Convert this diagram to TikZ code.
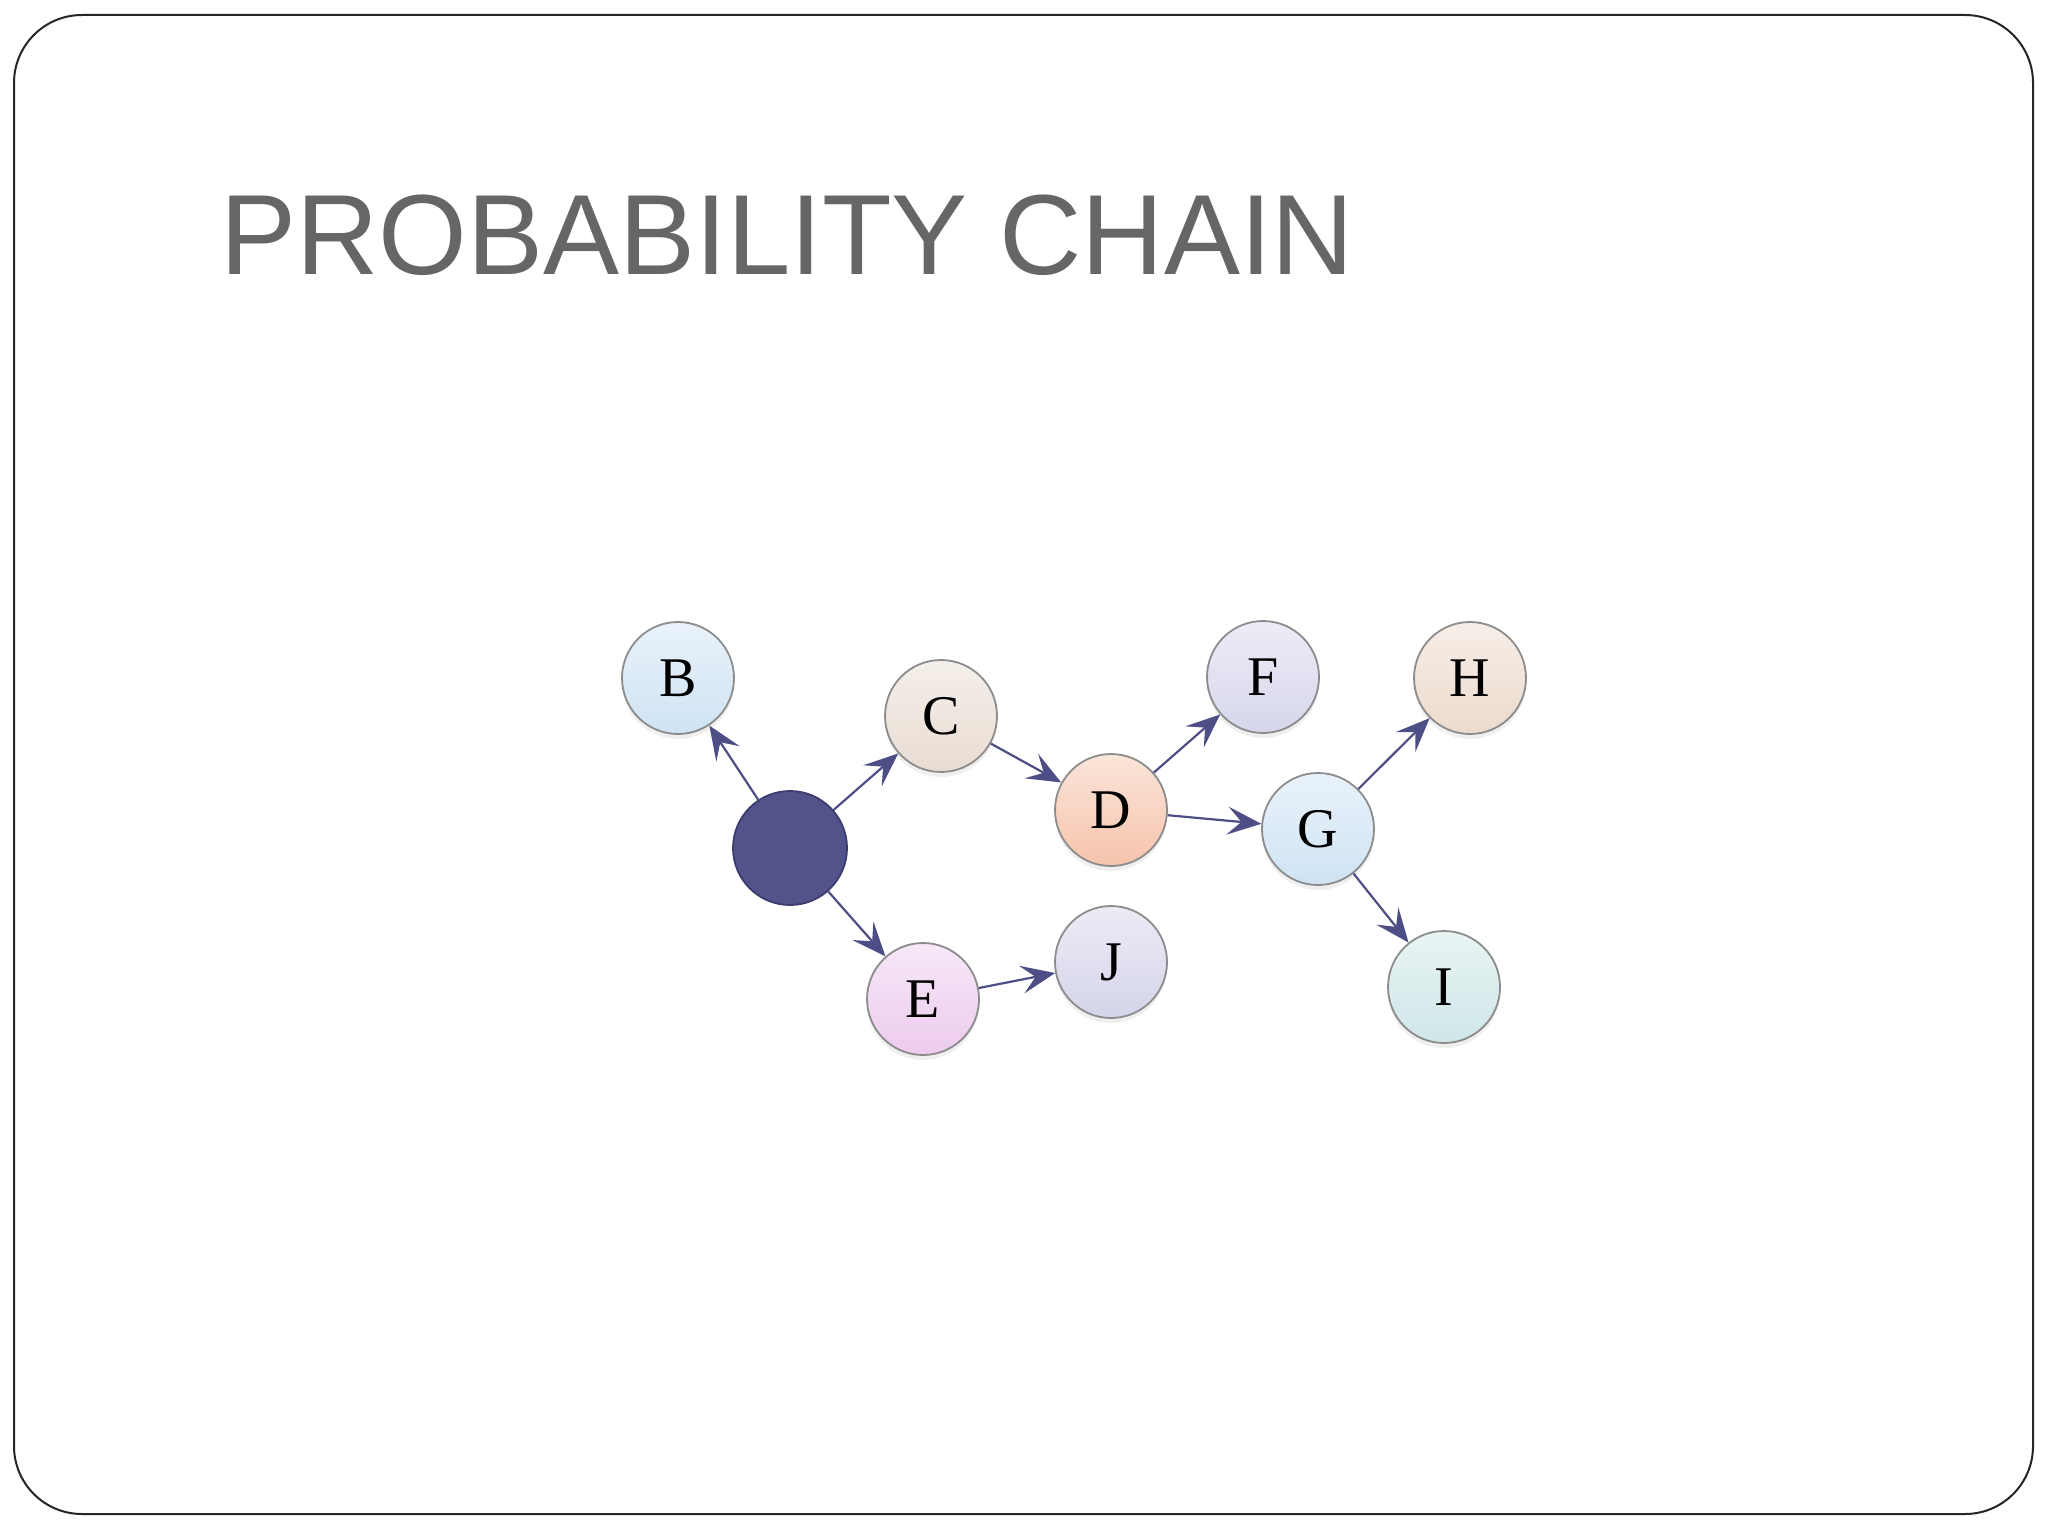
\documentclass[tikz,border=0pt]{standalone}
\usepackage{fontspec}
\setmainfont{Liberation Serif}
\newfontfamily\titlefont{Liberation Sans}
\usetikzlibrary{arrows.meta,shadows}
\definecolor{titlegray}{HTML}{666666}
\definecolor{arrowc}{HTML}{4E4E86}
\definecolor{darkn}{HTML}{53538C}
\definecolor{darkline}{HTML}{3C3C6E}
\definecolor{cB}{HTML}{CFE3F4}
\definecolor{cC}{HTML}{E8DCD2}
\definecolor{cD}{HTML}{F6C4AC}
\definecolor{cF}{HTML}{D6D6EC}
\definecolor{cH}{HTML}{ECDACC}
\definecolor{cG}{HTML}{CFE3F4}
\definecolor{cE}{HTML}{EDCBEE}
\definecolor{cJ}{HTML}{D4D4EA}
\definecolor{cI}{HTML}{CFE6E7}
\tikzset{
  ball/.style={circle, minimum size=56pt, inner sep=0pt, draw=gray!80!black!75, line width=0.9pt,
    top color=#1!45!white, bottom color=#1, font=\fontsize{28}{28}\selectfont,
    drop shadow={opacity=0.12, shadow xshift=0pt, shadow yshift=-2.5pt}},
  hub/.style={circle, minimum size=57pt, inner sep=0pt, draw=darkline, line width=0.9pt, fill=darkn},
  link/.style={draw=arrowc, line width=1.1pt, -{Stealth[length=17pt,width=14pt,inset=7pt]}}
}
\begin{document}
\begin{tikzpicture}[x=0.5pt,y=-0.5pt]
\useasboundingbox (0,0) rectangle (2048,1536);
\fill[white] (0,0) rectangle (2048,1536);
\draw[line width=1pt, black!85, rounded corners=34pt] (14,15) rectangle (2033,1514);
\node[anchor=base west, inner sep=0pt, text=titlegray, font=\titlefont\fontsize{57}{57}\selectfont] (title) at (220,274) {PROBABILITY CHAIN};

\node[hub] (A) at (790,848) {};
\node[ball=cB] (B) at (678,678) {B};
\node[ball=cC] (C) at (941,716) {C};
\node[ball=cD] (D) at (1111,810) {D};
\node[ball=cF] (F) at (1263,677) {F};
\node[ball=cH] (H) at (1470,678) {H};
\node[ball=cG] (G) at (1318,829) {G};
\node[ball=cE] (E) at (923,999) {E};
\node[ball=cJ] (J) at (1111,962) {J};
\node[ball=cI] (I) at (1444,987) {I};

\draw[link] (A) -- (B);
\draw[link] (A) -- (C);
\draw[link] (A) -- (E);
\draw[link] (C) -- (D);
\draw[link] (D) -- (F);
\draw[link] (D) -- (G);
\draw[link] (E) -- (J);
\draw[link] (G) -- (H);
\draw[link] (G) -- (I);
\end{tikzpicture}
\end{document}
